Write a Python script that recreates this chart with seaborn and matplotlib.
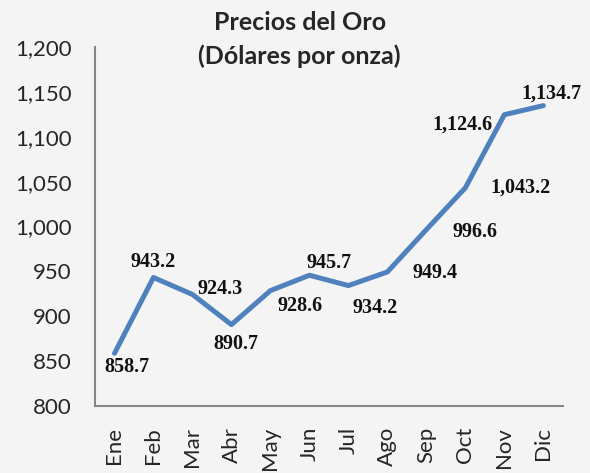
import pandas as pd
import numpy as np
import seaborn as sns
import matplotlib.pyplot as plt
from matplotlib.ticker import FuncFormatter

# data
meses = ['Ene', 'Feb', 'Mar', 'Abr', 'May', 'Jun', 'Jul', 'Ago', 'Sep', 'Oct', 'Nov', 'Dic']
precios = [858.7, 943.2, 924.3, 890.7, 928.6, 945.7, 934.2, 949.4, 996.6, 1043.2, 1124.6, 1134.7]

# label offsets in points (x, y), just to mimic where the labels sit
dx = [9, 0, 20, 3, 21, 14, 19, 34, 35, 40, -30, 6]
dy = [-10, 11, 4, -14, -11, 9, -16, -1, -2, 0, -7, 9]

df = pd.DataFrame({'mes': meses, 'precio': precios})
df['pos'] = np.arange(len(df))

sns.set_style('white')
plt.rcParams['font.family'] = ['Lato', 'DejaVu Sans']

fig = plt.figure(figsize=(5.9, 4.73), dpi=100, facecolor='#f4f4f4')
ax = fig.add_axes([0.161, 0.1416, 0.793, 0.759])
ax.set_facecolor('#f4f4f4')

sns.lineplot(x='pos', y='precio', data=df, ax=ax, color='#4F81BD', linewidth=3.6)

for i, row in df.iterrows():
    ax.annotate(f"{row['precio']:,.1f}", (row['pos'], row['precio']),
                xytext=(dx[i], dy[i]), textcoords='offset points',
                ha='center', va='center', fontsize=14.5, fontweight='bold',
                family='Liberation Serif', color='#111111')

ax.set_xlim(-0.5, 11.5)
ax.set_ylim(800, 1200)
ax.set_yticks(np.arange(800, 1201, 50))
ax.yaxis.set_major_formatter(FuncFormatter(lambda v, p: f'{v:,.0f}'))
ax.set_xticks(df['pos'])
ax.set_xticklabels(meses, rotation=90, fontsize=16)
ax.set_xticks(np.arange(-0.5, 11, 1), minor=True)
ax.tick_params(axis='x', which='major', length=0, pad=15)
ax.tick_params(axis='x', which='minor', length=6, width=1.5, color='#868686')
ax.tick_params(axis='y', length=7, width=1.5, color='#868686', labelsize=16, pad=10)
ax.set_xlabel('')
ax.set_ylabel('')

for s in ['top', 'right']:
    ax.spines[s].set_visible(False)
for s in ['left', 'bottom']:
    ax.spines[s].set_color('#868686')
    ax.spines[s].set_linewidth(1.5)

fig.text(0.508, 0.952, 'Precios del Oro', ha='center', va='center', fontsize=18, fontweight='bold')
fig.text(0.508, 0.882, '(Dólares por onza)', ha='center', va='center', fontsize=18, fontweight='bold')

plt.savefig('out.png', dpi=100, facecolor=fig.get_facecolor())
